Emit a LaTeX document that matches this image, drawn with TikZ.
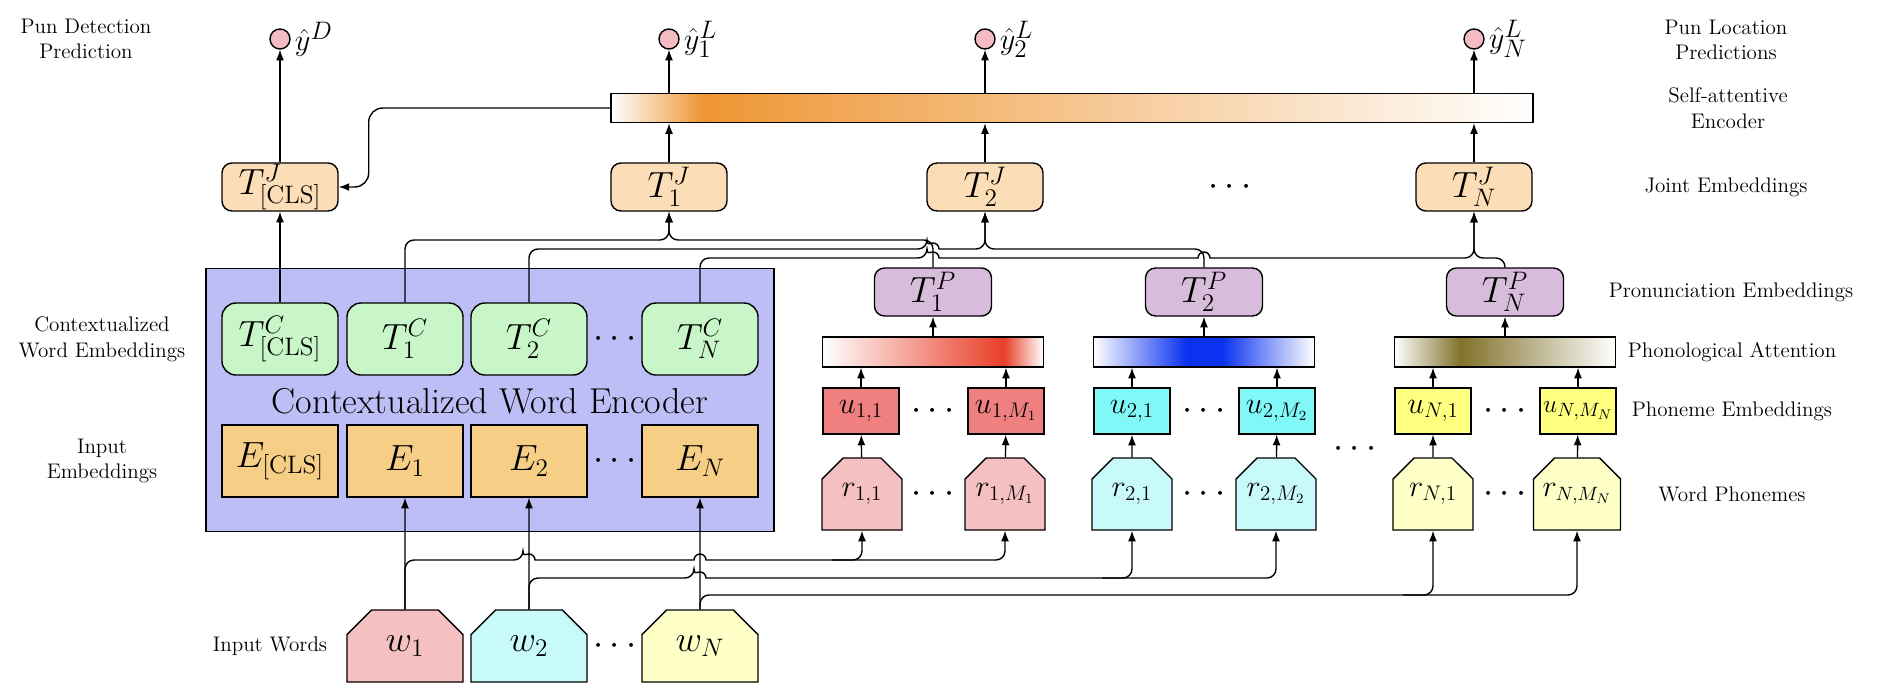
\documentclass[tikz,border=0pt]{standalone}
\usetikzlibrary{calc,shapes.misc,arrows.meta}

\newdimen\px \px=0.02cm

\definecolor{predpink}{RGB}{244,188,194}
\definecolor{jointpeach}{RGB}{251,221,184}
\definecolor{saeorange}{RGB}{238,150,52}
\definecolor{encblue}{RGB}{190,190,246}
\definecolor{ctxgreen}{RGB}{200,246,200}
\definecolor{embyellow}{RGB}{246,206,134}
\definecolor{pronpurple}{RGB}{216,188,220}
\definecolor{attred}{RGB}{232,62,40}
\definecolor{attblue}{RGB}{10,50,240}
\definecolor{attolive}{RGB}{130,114,42}
\definecolor{uone}{RGB}{240,128,128}
\definecolor{utwo}{RGB}{128,248,248}
\definecolor{uenn}{RGB}{255,255,128}
\definecolor{rone}{RGB}{245,192,194}
\definecolor{rtwo}{RGB}{200,250,252}
\definecolor{renn}{RGB}{255,255,200}

\pgfdeclarehorizontalshading{saeshade}{100bp}{color(0bp)=(white); color(25bp)=(white); color(30bp)=(saeorange); color(75bp)=(white); color(100bp)=(white)}
\pgfdeclarehorizontalshading{attoneshade}{100bp}{color(0bp)=(white); color(25bp)=(white); color(66bp)=(attred); color(75bp)=(white); color(100bp)=(white)}
\pgfdeclarehorizontalshading{atttwoshade}{100bp}{color(0bp)=(white); color(25bp)=(white); color(46bp)=(attblue); color(54bp)=(attblue); color(75bp)=(white); color(100bp)=(white)}
\pgfdeclarehorizontalshading{attennshade}{100bp}{color(0bp)=(white); color(25bp)=(white); color(40bp)=(attolive); color(75bp)=(white); color(100bp)=(white)}

\tikzset{
  conn/.style={-{Latex[length=6pt,width=4.5pt]}},
  big/.style={font=\fontsize{21}{25}\selectfont},
  mid/.style={font=\fontsize{17}{20}\selectfont},
  dotsfont/.style={font=\fontsize{22}{26}\selectfont},
  lbl/.style={font=\fontsize{12}{14.5}\selectfont, align=center},
  pred/.style={circle, draw, fill=predpink, minimum size=20\px, inner sep=0pt},
  jointbox/.style={draw, fill=jointpeach, rounded corners=10\px, minimum width=116\px, minimum height=48\px, inner sep=0pt, big},
  ctxbox/.style={draw, fill=ctxgreen, rounded corners=14\px, minimum width=116\px, minimum height=72\px, inner sep=0pt, big},
  embbox/.style={draw, fill=embyellow, minimum width=116\px, minimum height=72\px, inner sep=0pt, big},
  pronbox/.style={draw, fill=pronpurple, rounded corners=10\px, minimum width=117\px, minimum height=48\px, inner sep=0pt, big},
  attbar/.style={draw, shade, minimum width=221\px, minimum height=30\px, inner sep=0pt},
  phonbox/.style={draw, minimum width=76\px, minimum height=46\px, inner sep=0pt, mid},
  cutbox/.style={chamfered rectangle, chamfered rectangle corners={north west,north east}, draw, inner sep=0pt},
  rbox/.style={cutbox, chamfered rectangle xsep=9\px, chamfered rectangle ysep=12\px, minimum width=80\px, minimum height=72\px, mid},
  wbox/.style={cutbox, chamfered rectangle xsep=12\px, chamfered rectangle ysep=14\px, minimum width=116\px, minimum height=72\px, big}
}

\begin{document}
\begin{tikzpicture}[x=0.02cm,y=-0.02cm,line width=0.8pt]
\useasboundingbox (0,0) rectangle (1890,684);

% predictions
\node[pred, label={[font=\fontsize{19}{23}\selectfont, inner sep=2pt]right:$\hat{y}^D$}] (yD) at (280,39) {};
\node[pred, label={[font=\fontsize{19}{23}\selectfont, inner sep=2pt]right:$\hat{y}^L_1$}] (yL1) at (669,39) {};
\node[pred, label={[font=\fontsize{19}{23}\selectfont, inner sep=2pt]right:$\hat{y}^L_2$}] (yL2) at (985,39) {};
\node[pred, label={[font=\fontsize{19}{23}\selectfont, inner sep=2pt]right:$\hat{y}^L_N$}] (yLN) at (1474,39) {};

% self-attentive encoder
\node[draw, shade, shading=saeshade, minimum width=922\px, minimum height=29\px, inner sep=0pt] (sae) at (1072,108) {};

% joint embeddings
\node[jointbox] (TJc) at (280,187) {$T^J_{[\mathrm{CLS}]}$};
\node[jointbox] (TJ1) at (669,187) {$T^J_1$};
\node[jointbox] (TJ2) at (985,187) {$T^J_2$};
\node[dotsfont] (TJd) at (1230,187) {$\cdots$};
\node[jointbox] (TJN) at (1474,187) {$T^J_N$};

% contextualized word encoder
\node[draw, fill=encblue, minimum width=568\px, minimum height=263\px, inner sep=0pt] (enc) at (490,400) {};
\node[font=\fontsize{20.5}{24}\selectfont] (enclbl) at (490,401) {Contextualized Word Encoder};
\node[ctxbox] (TCc) at (280,339) {$T^C_{[\mathrm{CLS}]}$};
\node[ctxbox] (TC1) at (405,339) {$T^C_1$};
\node[ctxbox] (TC2) at (529,339) {$T^C_2$};
\node[dotsfont] (TCd) at (615,339) {$\cdots$};
\node[ctxbox] (TCN) at (700,339) {$T^C_N$};
\node[embbox] (Ec) at (280,461) {$E_{[\mathrm{CLS}]}$};
\node[embbox] (E1) at (405,461) {$E_1$};
\node[embbox] (E2) at (529,461) {$E_2$};
\node[dotsfont] (Ed) at (615,461) {$\cdots$};
\node[embbox] (EN) at (700,461) {$E_N$};

% input words
\node[wbox, fill=rone] (w1) at (405,646) {$w_1$};
\node[wbox, fill=rtwo] (w2) at (529,646) {$w_2$};
\node[dotsfont] (wd) at (615,646) {$\cdots$};
\node[wbox, fill=renn] (wN) at (700,646) {$w_N$};

% pronunciation side
\node[pronbox] (TP1) at (933,292) {$T^P_1$};
\node[pronbox] (TP2) at (1204,292) {$T^P_2$};
\node[pronbox] (TPN) at (1505,292) {$T^P_N$};
\node[attbar, shading=attoneshade] (att1) at (933,352) {};
\node[attbar, shading=atttwoshade] (att2) at (1204,352) {};
\node[attbar, shading=attennshade] (attN) at (1505,352) {};

\node[phonbox, fill=uone] (u11) at (861,411) {$u_{1,1}$};
\node[dotsfont] (u1d) at (933,411) {$\cdots$};
\node[phonbox, fill=uone] (u1M) at (1006,411) {$u_{1,M_1}$};
\node[phonbox, fill=utwo] (u21) at (1132,411) {$u_{2,1}$};
\node[dotsfont] (u2d) at (1204,411) {$\cdots$};
\node[phonbox, fill=utwo] (u2M) at (1277,411) {$u_{2,M_2}$};
\node[phonbox, fill=uenn] (uN1) at (1433,411) {$u_{N,1}$};
\node[dotsfont] (uNd) at (1505,411) {$\cdots$};
\node[phonbox, fill=uenn, font=\fontsize{15.5}{18}\selectfont] (uNM) at (1578,411) {$u_{N,M_N}$};

\node[rbox, fill=rone] (r11) at (862,494) {$r_{1,1}$};
\node[dotsfont] (r1d) at (933,494) {$\cdots$};
\node[rbox, fill=rone] (r1M) at (1005,494) {$r_{1,M_1}$};
\node[rbox, fill=rtwo] (r21) at (1132,494) {$r_{2,1}$};
\node[dotsfont] (r2d) at (1204,494) {$\cdots$};
\node[rbox, fill=rtwo] (r2M) at (1276,494) {$r_{2,M_2}$};
\node[rbox, fill=renn] (rN1) at (1433,494) {$r_{N,1}$};
\node[dotsfont] (rNd) at (1505,494) {$\cdots$};
\node[rbox, fill=renn, font=\fontsize{16}{19}\selectfont] (rNM) at (1577,494) {$r_{N,M_N}$};
\node[dotsfont] (gd) at (1355,449) {$\cdots$};

% row labels
\node[lbl] (lpd) at (86,39) {Pun Detection\\Prediction};
\node[lbl] (lcw) at (102,339) {Contextualized\\Word Embeddings};
\node[lbl] (lie) at (102,461) {Input\\Embeddings};
\node[lbl] (liw) at (270,646) {Input Words};
\node[lbl] (lpl) at (1726,40) {Pun Location\\Predictions};
\node[lbl] (lsa) at (1728,108) {Self-attentive\\Encoder};
\node[lbl] (lje) at (1726,187) {Joint Embeddings};
\node[lbl] (lpe) at (1731,292) {Pronunciation Embeddings};
\node[lbl] (lpa) at (1732,352) {Phonological Attention};
\node[lbl] (lph) at (1732,411) {Phoneme Embeddings};
\node[lbl] (lwp) at (1732,494) {Word Phonemes};

% wire levels
\coordinate (topA) at (0,240);
\coordinate (topB) at (0,249);
\coordinate (topC) at (0,258);
\coordinate (inA) at (0,560);
\coordinate (inB) at (0,578);
\coordinate (inC) at (0,595);

% upper arrows
\draw[conn] (TJc) -- (yD);
\draw[conn] (TCc) -- (TJc);
\draw[conn] (TJ1) -- (TJ1 |- sae.south);
\draw[conn] (TJ2) -- (TJ2 |- sae.south);
\draw[conn] (TJN) -- (TJN |- sae.south);
\draw[conn] (TJ1 |- sae.north) -- (yL1);
\draw[conn] (TJ2 |- sae.north) -- (yL2);
\draw[conn] (TJN |- sae.north) -- (yLN);
\draw[conn, rounded corners=14\px] (sae.west) -| ($(TJc.east)+(30,0)$) -- (TJc.east);

% contextual + pronunciation into joint
\draw[conn, rounded corners=9\px] (TC1.north) |- (TJ1.south |- topA) -- (TJ1.south);
\draw[conn, rounded corners=9\px] (TP1.north) |- (TJ1.south |- topA) -- (TJ1.south);
\draw[conn, rounded corners=9\px] (TC2.north) |- ($(TP1.north |- topB)+(-6,0)$) [sharp corners] arc[start angle=180, end angle=0, radius=6\px] [rounded corners=9\px] -| (TJ2.south);
\draw[conn, rounded corners=9\px] (TP2.north) |- (TJ2.south |- topB) -- (TJ2.south);
\draw[conn, rounded corners=9\px] (TCN.north) |- ($(TP1.north |- topC)+(-6,0)$) [sharp corners] arc[start angle=180, end angle=0, radius=6\px] -- ($(TP2.north |- topC)+(-6,0)$) arc[start angle=180, end angle=0, radius=6\px] [rounded corners=9\px] -| (TJN.south);
\draw[conn, rounded corners=9\px] (TPN.north) |- (TJN.south |- topC) -- (TJN.south);

% phoneme stacks
\foreach \g in {1,2,N}{
  \draw[conn] (att\g) -- (TP\g);
  \draw[conn] (u\g1) -- (u\g1 |- att\g.south);
  \draw[conn] (u\g M) -- (u\g M |- att\g.south);
  \draw[conn] (r\g1) -- (u\g1);
  \draw[conn] (r\g M) -- (u\g M);
}

% input words
\draw[conn] (w1) -- (E1);
\draw[conn] (w2) -- (E2);
\draw[conn] (wN) -- (EN);
\draw[conn, rounded corners=9\px] (w1.north) |- ($(w2.north |- inA)+(-6,0)$) [sharp corners] arc[start angle=180, end angle=0, radius=6\px] -- ($(wN.north |- inA)+(-6,0)$) arc[start angle=180, end angle=0, radius=6\px] [rounded corners=9\px] -| (r1M.south);
\draw[conn, rounded corners=9\px] ($(r11.south |- inA)+(-30,0)$) -| (r11.south);
\draw[conn, rounded corners=9\px] (w2.north) |- ($(wN.north |- inB)+(-6,0)$) [sharp corners] arc[start angle=180, end angle=0, radius=6\px] [rounded corners=9\px] -| (r2M.south);
\draw[conn, rounded corners=9\px] ($(r21.south |- inB)+(-30,0)$) -| (r21.south);
\draw[conn, rounded corners=9\px] (wN.north) |- (rNM.south |- inC) -- (rNM.south);
\draw[conn, rounded corners=9\px] ($(rN1.south |- inC)+(-30,0)$) -| (rN1.south);
\end{tikzpicture}
\end{document}
